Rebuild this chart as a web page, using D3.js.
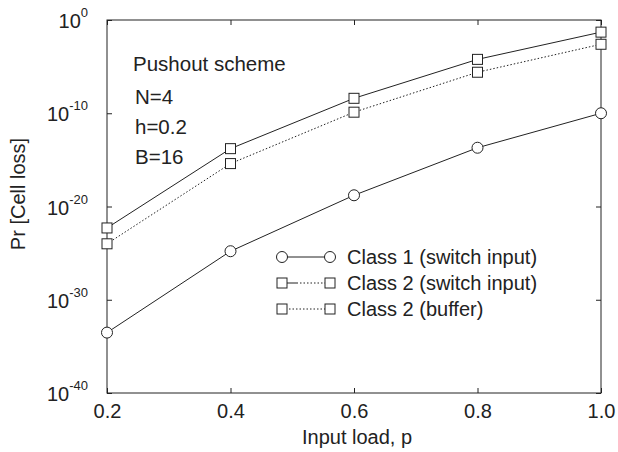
<!DOCTYPE html>
<html>
<head>
<meta charset="utf-8">
<script src="https://cdn.jsdelivr.net/npm/d3@7/dist/d3.min.js"></script>
<style>
  body { margin: 0; background: #fff; }
  svg { font-family: 'Liberation Sans', Arial, Helvetica, sans-serif; }
</style>
</head>
<body>
<svg id="chart" width="618" height="452"></svg>
<script>
var loads = [0.2, 0.4, 0.6, 0.8, 1.0];
var class1Switch = [3e-34, 1.6e-25, 1.6e-19, 2e-14, 1e-10];
var class2Switch = [5e-23, 1.6e-14, 4e-9, 6e-5, 5e-2];
var class2Buffer = [1e-24, 4e-16, 1.3e-10, 2.5e-6, 2.5e-3];
var yTicks = [1e-40, 1e-30, 1e-20, 1e-10, 1e0];
var yTickExp = ['-40', '-30', '-20', '-10', '0'];
var infoLines = ['N=4', 'h=0.2', 'B=16'];

var plotLeft = 107, plotRight = 601, plotTop = 20, plotBottom = 393;
var ink = '#222';
var fs = 20;

var svg = d3.select('#chart');

var x = d3.scaleLinear().domain([0.2, 1.0]).range([plotLeft, plotRight]);
var y = d3.scaleLog().domain([1e-40, 1]).range([plotBottom, plotTop]);

// bottom axis
var xaxis = svg.append('g')
  .attr('transform', 'translate(0,' + plotBottom + ')')
  .call(d3.axisBottom(x).tickValues(loads).tickFormat(d3.format('.1f'))
    .tickSizeInner(-5).tickSizeOuter(0).tickPadding(11))
xaxis.select('.domain').remove()
xaxis.selectAll('line').attr('stroke', ink)
xaxis.selectAll('text').attr('font-size', fs).attr('fill', ink).attr('font-family', null)

// top ticks
var xtop = svg.append('g')
  .attr('transform', 'translate(0,' + plotTop + ')')
  .call(d3.axisTop(x).tickValues(loads).tickFormat('').tickSizeInner(-5).tickSizeOuter(0))
xtop.select('.domain').remove()
xtop.selectAll('line').attr('stroke', ink)

// left axis, labels drawn with superscripts
var yaxis = svg.append('g')
  .attr('transform', 'translate(' + plotLeft + ',0)')
  .call(d3.axisLeft(y).tickValues(yTicks).tickFormat('').tickSizeInner(-5).tickSizeOuter(0))
yaxis.select('.domain').remove()
yaxis.selectAll('line').attr('stroke', ink)

var ylab = svg.append('g')
yTicks.forEach(function (v, i) {
  var t = ylab.append('text')
    .attr('x', 88)
    .attr('y', y(v) + 8)
    .attr('text-anchor', 'end')
    .attr('font-size', fs)
    .attr('fill', ink)
  t.append('tspan').text('10')
  t.append('tspan').attr('dy', -11).attr('font-size', 13).text(yTickExp[i])
})

// right ticks
var yright = svg.append('g')
  .attr('transform', 'translate(' + plotRight + ',0)')
  .call(d3.axisRight(y).tickValues(yTicks).tickFormat('').tickSizeInner(-5).tickSizeOuter(0))
yright.select('.domain').remove()
yright.selectAll('line').attr('stroke', ink)

// frame
svg.append('rect')
  .attr('x', plotLeft).attr('y', plotTop)
  .attr('width', plotRight - plotLeft).attr('height', plotBottom - plotTop)
  .attr('fill', 'none').attr('stroke', ink).attr('stroke-width', 1)

// axis titles
svg.append('text')
  .attr('x', 357).attr('y', 444)
  .attr('text-anchor', 'middle').attr('font-size', fs).attr('fill', ink)
  .text('Input load, p')

svg.append('text')
  .attr('transform', 'translate(25,194)rotate(-90)')
  .attr('text-anchor', 'middle').attr('font-size', fs).attr('fill', ink)
  .text('Pr [Cell loss]')

// annotation
svg.append('text')
  .attr('x', 133).attr('y', 71)
  .attr('font-size', 20.5).attr('fill', ink)
  .text('Pushout scheme')
infoLines.forEach(function (s, i) {
  svg.append('text')
    .attr('x', 135).attr('y', 104 + i * 30)
    .attr('font-size', 20.5).attr('fill', ink)
    .text(s)
})

var series = [
  { name: 'Class 1 (switch input)', data: class1Switch, marker: 'circle', dash: null, legendDash: null },
  { name: 'Class 2 (switch input)', data: class2Switch, marker: 'square', dash: null, legendDash: '16,2,1.5,2,1.5,2,1.5,2,1.5,2,1.5,2,1.5,2,1.5,2' },
  { name: 'Class 2 (buffer)', data: class2Buffer, marker: 'square', dash: '1.5,2', legendDash: '1.5,2' }
]

var line = d3.line()
  .x(function (d, i) { return x(loads[i]) })
  .y(function (d) { return y(d) })

function drawMarker(g, type, cx, cy) {
  if (type === 'circle') {
    g.append('circle').attr('cx', cx).attr('cy', cy).attr('r', 5.5)
      .attr('fill', '#fff').attr('stroke', ink).attr('stroke-width', 1)
  } else {
    g.append('rect').attr('x', cx - 5).attr('y', cy - 5).attr('width', 10).attr('height', 10)
      .attr('fill', '#fff').attr('stroke', ink).attr('stroke-width', 1)
  }
}

var marks = svg.append('g')
series.forEach(function (s) {
  marks.append('path')
    .datum(s.data)
    .attr('d', line)
    .attr('fill', 'none')
    .attr('stroke', ink)
    .attr('stroke-width', 1)
    .attr('stroke-dasharray', s.dash)
})
series.forEach(function (s) {
  s.data.forEach(function (d, i) {
    drawMarker(marks, s.marker, x(loads[i]), y(d))
  })
})

// legend
var legend = svg.append('g')
series.forEach(function (s, i) {
  var ly = 257 + i * 26
  legend.append('line')
    .attr('x1', 282).attr('x2', 330).attr('y1', ly).attr('y2', ly)
    .attr('stroke', ink).attr('stroke-width', 1)
    .attr('stroke-dasharray', s.legendDash)
  drawMarker(legend, s.marker, 282, ly)
  drawMarker(legend, s.marker, 330, ly)
  legend.append('text')
    .attr('x', 347).attr('y', ly + 7)
    .attr('font-size', fs).attr('fill', ink)
    .text(s.name)
})
</script>
</body>
</html>
